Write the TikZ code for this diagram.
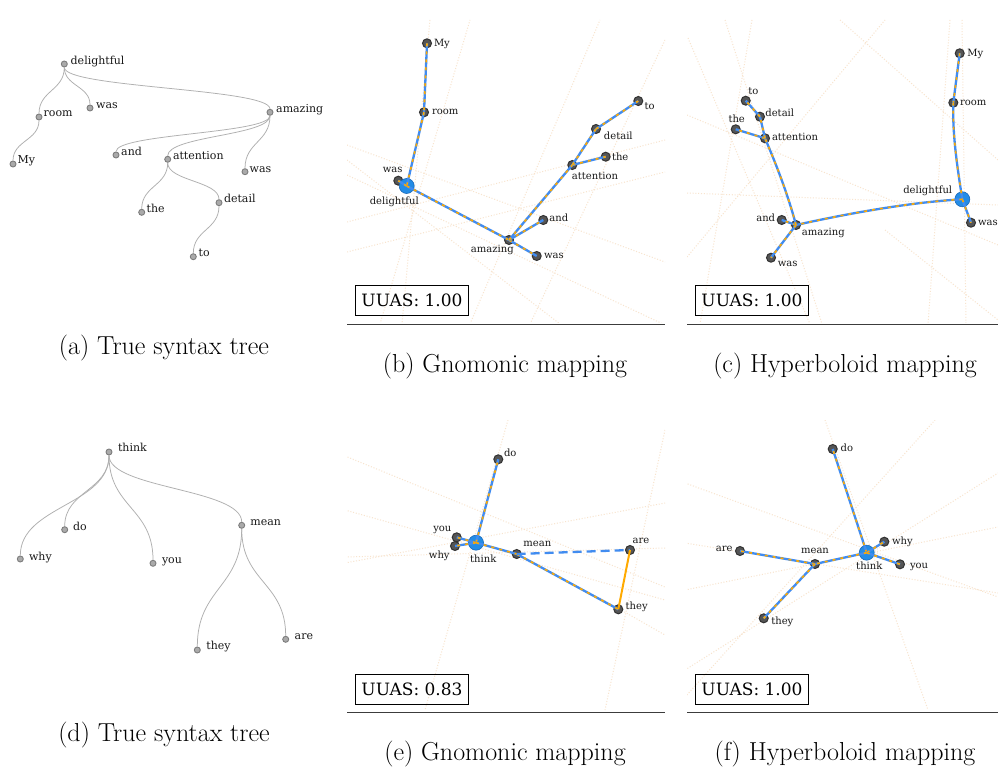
\documentclass[tikz,border=0pt]{standalone}
\usepackage{fontspec}
\newfontfamily\labfont{DejaVu Serif}
\definecolor{eblue}{RGB}{65,140,240}
\definecolor{eorange}{RGB}{255,170,0}
\definecolor{rootblue}{RGB}{35,140,230}
\definecolor{rootdraw}{RGB}{25,105,185}
\definecolor{nodefill}{RGB}{85,85,85}
\definecolor{nodedraw}{RGB}{50,50,50}
\definecolor{treefill}{RGB}{170,170,170}
\definecolor{treedraw}{RGB}{125,125,125}
\definecolor{edgegray}{RGB}{175,175,175}
\definecolor{bgdot}{RGB}{248,228,206}
\definecolor{labcol}{RGB}{25,25,25}
\definecolor{sepcol}{RGB}{60,60,60}
\newcommand\bothedge[2]{\draw[goldedge] (#1.center) -- (#2.center); \draw[prededge] (#1.center) -- (#2.center);}
\newcommand\bothcurve[3]{\draw[goldedge] (#1.center) #3 (#2.center); \draw[prededge] (#1.center) #3 (#2.center);}
\newcommand\vlink[3]{\draw[tedge] (#1) .. controls +(0,#3) and +(0,-#3) .. (#2);}
\begin{document}
\begin{tikzpicture}[x=1pt,y=-1pt,
  tnode/.style={circle, fill=treefill, draw=treedraw, line width=0.9pt, minimum size=6pt, inner sep=0pt},
  tlab/.style={font=\labfont\fontsize{11}{13}\selectfont, text=labcol, inner sep=0pt, text height=7.5pt, text depth=2pt, anchor=west},
  tedge/.style={draw=edgegray, line width=0.75pt},
  mnode/.style={circle, fill=nodefill, draw=nodedraw, line width=1pt, minimum size=9pt, inner sep=0pt},
  rnode/.style={circle, fill=rootblue, draw=rootdraw, line width=0.6pt, minimum size=15pt, inner sep=0pt},
  mlab/.style={font=\labfont\fontsize{10}{12}\selectfont, text=labcol, inner sep=0pt, text height=7pt, text depth=2pt},
  goldedge/.style={draw=eblue, line width=2.3pt},
  prededge/.style={draw=eorange, line width=1.6pt, dash pattern=on 3pt off 5pt},
  golddash/.style={draw=eblue, line width=2.3pt, dash pattern=on 9pt off 5pt},
  predonly/.style={draw=eorange, line width=2pt},
  bgline/.style={draw=bgdot, line width=1pt, dash pattern=on 1pt off 1.8pt},
  sepline/.style={draw=sepcol, line width=1pt},
  uubox/.style={draw=black, line width=1pt, minimum width=112.6pt, minimum height=29.7pt, inner sep=0pt, font=\labfont\fontsize{17}{20}\selectfont},
  capt/.style={font=\fontsize{26}{30}\selectfont, anchor=base, inner sep=0pt}
]
\useasboundingbox (0,0) rectangle (998,773);
\fill[white] (0,0) rectangle (998,773);

% ---------- background dotted lines ----------
\begin{scope}
\clip (347,20) rectangle (665,322);
\foreach \xa/\ya/\xb/\yb in {347/145/665/262, 347/160/560/324, 347/222/665/140, 347/252/665/172, 430/20/402/324, 665/40/530/324, 380/324/470/20, 470/324/600/20, 347/175/665/325}
  \draw[bgline] (\xa,\ya) -- (\xb,\yb);
\end{scope}
\begin{scope}
\clip (687,20) rectangle (998,322);
\foreach \xa/\ya/\xb/\yb in {688/38/810/324, 725/20/822/324, 687/115/998/245, 687/193/998/205, 687/257/885/20, 962/20/966/324, 950/20/928/324, 885/230/998/320, 752/20/700/324, 840/20/998/160}
  \draw[bgline] (\xa,\ya) -- (\xb,\yb);
\end{scope}
\begin{scope}
\clip (347,420) rectangle (665,710);
\foreach \xa/\ya/\xb/\yb in {345/456/665/587, 345/510/665/600, 345/563/665/503, 508/420/425/710, 665/430/605/710, 345/557/665/548, 600/598/665/635}
  \draw[bgline] (\xa,\ya) -- (\xb,\yb);
\end{scope}
\begin{scope}
\clip (687,420) rectangle (998,710);
\foreach \xa/\ya/\xb/\yb in {825/420/928/710, 685/483/998/597, 685/543/998/593, 685/590/998/527, 685/697/935/420, 685/670/998/473}
  \draw[bgline] (\xa,\ya) -- (\xb,\yb);
\end{scope}

% ---------- (a) true syntax tree ----------
\node[tnode] (adel) at (64.3,64) {};
\node[tnode] (aroom) at (39,117) {};
\node[tnode] (awas) at (90,108) {};
\node[tnode] (amy) at (13,164) {};
\node[tnode] (aama) at (270,112.3) {};
\node[tnode] (aand) at (116,155) {};
\node[tnode] (aatt) at (167.7,159.3) {};
\node[tnode] (awastwo) at (245,171.7) {};
\node[tnode] (athe) at (141.7,212.3) {};
\node[tnode] (adet) at (219,202.7) {};
\node[tnode] (ato) at (193.3,256.7) {};
\vlink{adel}{aroom}{26.5}
\vlink{adel}{awas}{22}
\vlink{adel}{aama}{24}
\vlink{aroom}{amy}{23.5}
\vlink{aama}{aand}{21.3}
\vlink{aama}{aatt}{23.5}
\vlink{aama}{awastwo}{29.7}
\vlink{aatt}{athe}{26.5}
\vlink{aatt}{adet}{21.7}
\vlink{adet}{ato}{27}
\node[tlab] (adel-l) at (70.5,61.7) {delightful};
\node[tlab] (aroom-l) at (43.5,114) {room};
\node[tlab] (awas-l) at (96,105.3) {was};
\node[tlab] (amy-l) at (17.5,160.7) {My};
\node[tlab] (aama-l) at (276,110) {amazing};
\node[tlab] (aand-l) at (121,152.3) {and};
\node[tlab] (aatt-l) at (172.8,156.7) {attention};
\node[tlab] (awastwo-l) at (249.5,169.3) {was};
\node[tlab] (athe-l) at (146.5,209.3) {the};
\node[tlab] (adet-l) at (223.8,199.3) {detail};
\node[tlab] (ato-l) at (198.5,253.3) {to};

% ---------- (d) true syntax tree ----------
\node[tnode] (dthink) at (109,452) {};
\node[tnode] (ddo) at (64.7,529.7) {};
\node[tnode] (dwhy) at (20.3,559) {};
\node[tnode] (dyou) at (153,563.3) {};
\node[tnode] (dmean) at (241.7,525.3) {};
\node[tnode] (dthey) at (197.3,650) {};
\node[tnode] (dare) at (285.7,639.3) {};
\vlink{dthink}{dwhy}{53.5}
\vlink{dthink}{ddo}{38.8}
\vlink{dthink}{dyou}{55.7}
\vlink{dthink}{dmean}{36.7}
\vlink{dmean}{dthey}{62.3}
\vlink{dmean}{dare}{57}
\node[tlab] (dthink-l) at (117.8,448.3) {think};
\node[tlab] (ddo-l) at (72.8,527.3) {do};
\node[tlab] (dwhy-l) at (28.8,557.3) {why};
\node[tlab] (dyou-l) at (161.8,560.7) {you};
\node[tlab] (dmean-l) at (250.2,522.7) {mean};
\node[tlab] (dthey-l) at (206.2,646.7) {they};
\node[tlab] (dare-l) at (294.5,636.7) {are};

% ---------- (b) gnomonic ----------
\node[mnode] (bmy) at (427,43.3) {};
\node[mnode] (broom) at (424,112.3) {};
\node[mnode] (bwas) at (398.3,180.7) {};
\node[rnode] (bdel) at (406.7,186) {};
\node[mnode] (bama) at (509,240) {};
\node[mnode] (bwastwo) at (536.7,256) {};
\node[mnode] (band) at (543.3,220) {};
\node[mnode] (batt) at (572.3,165) {};
\node[mnode] (bthe) at (605.7,156.7) {};
\node[mnode] (bdet) at (596,129) {};
\node[mnode] (bto) at (638.3,101) {};
\bothedge{bmy}{broom}
\bothedge{broom}{bdel}
\bothedge{bdel}{bwas}
\bothedge{bdel}{bama}
\bothedge{bama}{bwastwo}
\bothedge{bama}{band}
\bothedge{bama}{batt}
\bothedge{batt}{bthe}
\bothedge{batt}{bdet}
\bothedge{bdet}{bto}
\node[mlab, anchor=west] (bmy-l) at (433.8,44) {My};
\node[mlab, anchor=west] (broom-l) at (431.8,111.7) {room};
\node[mlab] (bwas-l) at (392.7,170) {was};
\node[mlab] (bdel-l) at (394.3,201.7) {delightful};
\node[mlab] (bama-l) at (492.3,250) {amazing};
\node[mlab, anchor=west] (bwastwo-l) at (543.8,256) {was};
\node[mlab, anchor=west] (band-l) at (549.2,219.3) {and};
\node[mlab] (batt-l) at (595,176.7) {attention};
\node[mlab, anchor=west] (bthe-l) at (611.8,158.3) {the};
\node[mlab] (bdet-l) at (618.3,136.7) {detail};
\node[mlab, anchor=west] (bto-l) at (644.5,106.7) {to};
\node[uubox] (ub) at (412,300.8) {UUAS: 1.00};
\draw[sepline] (347,324) -- (664.5,324);
\node[capt] (capb) at (505,372) {(b) Gnomonic mapping};

% ---------- (c) hyperboloid ----------
\node[mnode] (cmy) at (959.7,53.3) {};
\node[mnode] (croom) at (953.3,102.7) {};
\node[rnode] (cdel) at (962.3,199.3) {};
\node[mnode] (cwas) at (971,222.7) {};
\node[mnode] (cama) at (796,225) {};
\node[mnode] (cand) at (781.7,220) {};
\node[mnode] (cwastwo) at (771,257.7) {};
\node[mnode] (catt) at (765,138.3) {};
\node[mnode] (cthe) at (735.7,129.3) {};
\node[mnode] (cdet) at (760,116.7) {};
\node[mnode] (cto) at (745.7,100.7) {};
\bothedge{cmy}{croom}
\bothcurve{croom}{cdel}{.. controls +(-1,32) and +(-5,-32) ..}
\bothedge{cdel}{cwas}
\bothcurve{cdel}{cama}{.. controls +(-55,3) and +(45,-10) ..}
\bothedge{cama}{cand}
\bothedge{cama}{cwastwo}
\bothcurve{cama}{catt}{.. controls +(-8,-30) and +(12,28) ..}
\bothedge{catt}{cthe}
\bothedge{catt}{cdet}
\bothedge{cdet}{cto}
\node[mlab, anchor=west] (cmy-l) at (967.2,54) {My};
\node[mlab, anchor=west] (croom-l) at (959.8,102.7) {room};
\node[mlab] (cdel-l) at (927.7,190.7) {delightful};
\node[mlab, anchor=west] (cwas-l) at (977.8,222.7) {was};
\node[mlab] (cama-l) at (823.3,232.7) {amazing};
\node[mlab] (cand-l) at (765.7,219.3) {and};
\node[mlab] (cwastwo-l) at (787.7,264) {was};
\node[mlab, anchor=west] (catt-l) at (771.8,137.7) {attention};
\node[mlab] (cthe-l) at (736.7,120) {the};
\node[mlab, anchor=west] (cdet-l) at (765.2,114) {detail};
\node[mlab] (cto-l) at (753.3,92.3) {to};
\node[uubox] (uc) at (752,300.8) {UUAS: 1.00};
\draw[sepline] (687,324) -- (998,324);
\node[capt] (capc) at (845,372) {(c) Hyperboloid mapping};

% ---------- (e) gnomonic ----------
\node[mnode] (edo) at (498.3,459.3) {};
\node[mnode] (eyou) at (456.7,537.3) {};
\node[mnode] (ewhy) at (455,546) {};
\node[rnode] (ethink) at (476,542.7) {};
\node[mnode] (emean) at (516.7,554) {};
\node[mnode] (eare) at (630,550) {};
\node[mnode] (ethey) at (618.3,609.3) {};
\bothedge{ethink}{edo}
\bothedge{ethink}{eyou}
\bothedge{ethink}{ewhy}
\bothedge{ethink}{emean}
\bothedge{emean}{ethey}
\draw[golddash] (emean.center) -- (eare.center);
\draw[predonly] (eare.center) -- (ethey.center);
\node[mlab, anchor=west] (edo-l) at (503.8,454.3) {do};
\node[mlab] (ethink-l) at (483.3,560) {think};
\node[mlab] (eyou-l) at (442.3,529.3) {you};
\node[mlab] (ewhy-l) at (439.3,556) {why};
\node[mlab] (emean-l) at (537.3,544.3) {mean};
\node[mlab] (eare-l) at (641,540.7) {are};
\node[mlab] (ethey-l) at (636.7,607.3) {they};
\node[uubox] (ue) at (412,689.2) {UUAS: 0.83};
\draw[sepline] (347,712) -- (664.5,712);
\node[capt] (cape) at (505,760) {(e) Gnomonic mapping};

% ---------- (f) hyperboloid ----------
\node[mnode] (fdo) at (832.7,449) {};
\node[rnode] (fthink) at (866.7,552.7) {};
\node[mnode] (fwhy) at (884.3,541.7) {};
\node[mnode] (fyou) at (900,564.3) {};
\node[mnode] (fmean) at (815,564) {};
\node[mnode] (fare) at (740,551) {};
\node[mnode] (fthey) at (763.7,618.3) {};
\bothedge{fthink}{fdo}
\bothedge{fthink}{fwhy}
\bothedge{fthink}{fyou}
\bothedge{fthink}{fmean}
\bothedge{fmean}{fare}
\bothedge{fmean}{fthey}
\node[mlab, anchor=west] (fdo-l) at (840.5,449) {do};
\node[mlab] (fthink-l) at (869.3,566.7) {think};
\node[mlab, anchor=west] (fwhy-l) at (891.8,542) {why};
\node[mlab, anchor=west] (fyou-l) at (909.8,566) {you};
\node[mlab] (fmean-l) at (815,551) {mean};
\node[mlab] (fare-l) at (724.3,549) {are};
\node[mlab] (fthey-l) at (782.3,621.7) {they};
\node[uubox] (uf) at (752,689.2) {UUAS: 1.00};
\draw[sepline] (687,712) -- (998,712);
\node[capt] (capf) at (845,760) {(f) Hyperboloid mapping};

% ---------- captions (a),(d) ----------
\node[capt] (capa) at (164,354) {(a) True syntax tree};
\node[capt] (capd) at (164,741.5) {(d) True syntax tree};
\end{tikzpicture}
\end{document}
